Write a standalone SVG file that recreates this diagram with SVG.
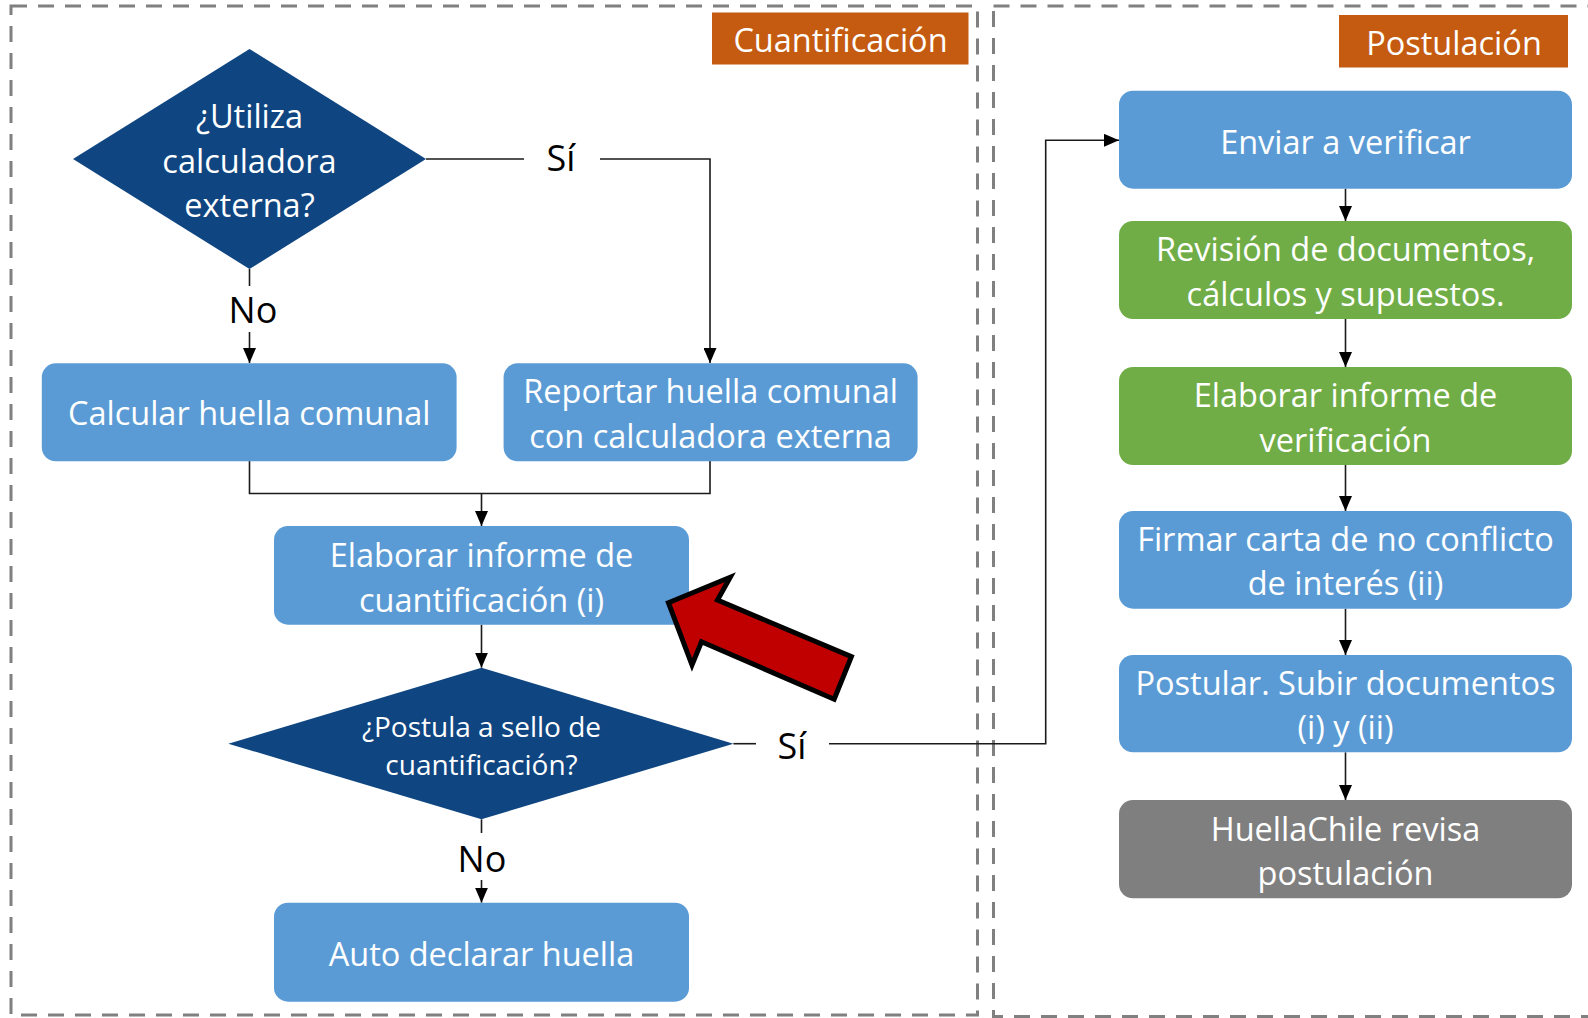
<svg xmlns="http://www.w3.org/2000/svg" width="1588" height="1018" viewBox="0 0 1588 1018">
<style>
.frame{fill:none;stroke:#808080;stroke-width:3;stroke-dasharray:16 11}
.tag{fill:#C55A11}
.box{fill:#5B9BD5}
.green{fill:#70AD47}
.gray{fill:#7F7F7F}
.dia{fill:#0F4581}
.t{font-family:"Open Sans","Noto Sans",sans-serif;font-size:32.5px;fill:#fff;text-anchor:middle;dominant-baseline:central}
.ts{font-size:28px}
.lbl{font-family:"Open Sans","Noto Sans",sans-serif;font-size:36px;fill:#000;text-anchor:middle;dominant-baseline:central}
.c{fill:none;stroke:#1a1a1a;stroke-width:1.6}
</style>
<defs>
<marker id="ah" markerUnits="userSpaceOnUse" markerWidth="15" markerHeight="13" refX="15" refY="6.5" orient="auto">
<path d="M0,0 L15,6.5 L0,13 z" fill="#000"/>
</marker>
</defs>
<rect id="frame-cuantificacion" class="frame" x="11" y="6" width="966.5" height="1009"/>
<rect id="frame-postulacion" class="frame" x="993.5" y="6" width="620" height="1010.5"/>
<g id="tag-cuantificacion"><rect class="tag" x="712" y="12.5" width="256.5" height="52"/><text class="t" x="840.5" y="39.5">Cuantificación</text></g>
<g id="tag-postulacion"><rect class="tag" x="1339" y="15" width="229" height="52.5"/><text class="t" x="1454" y="42">Postulación</text></g>

<g id="connectors">
<path class="c" d="M426,159 H524"/>
<path class="c" d="M600,159 H710 V363" marker-end="url(#ah)"/>
<path class="c" d="M249.5,269 V286"/>
<path class="c" d="M249.5,332 V363" marker-end="url(#ah)"/>
<path class="c" d="M249.5,461 V493.5 H710 V461"/>
<path class="c" d="M481.5,493.5 V526" marker-end="url(#ah)"/>
<path class="c" d="M481.5,624.7 V667.7" marker-end="url(#ah)"/>
<path class="c" d="M733.4,743.7 H756"/>
<path class="c" d="M829,743.7 H1045.7 V140.3 H1119" marker-end="url(#ah)"/>
<path class="c" d="M481.5,819.3 V833"/>
<path class="c" d="M481.5,880 V902.7" marker-end="url(#ah)"/>
<path class="c" d="M1345.5,188.7 V221" marker-end="url(#ah)"/>
<path class="c" d="M1345.5,319 V367" marker-end="url(#ah)"/>
<path class="c" d="M1345.5,465 V511" marker-end="url(#ah)"/>
<path class="c" d="M1345.5,608.7 V655" marker-end="url(#ah)"/>
<path class="c" d="M1345.5,752.3 V800" marker-end="url(#ah)"/>
<text class="lbl" x="561" y="157">Sí</text>
<text class="lbl" x="253" y="309">No</text>
<text class="lbl" x="792" y="745">Sí</text>
<text class="lbl" x="482" y="858">No</text>
</g>

<g id="d-utiliza"><polygon class="dia" points="249.5,49 426,159 249.5,269 73,159"/>
<text class="t" x="249.5" y="115">¿Utiliza</text><text class="t" x="249.5" y="160">calculadora</text><text class="t" x="249.5" y="204.5">externa?</text></g>

<g id="n-calcular"><rect class="box" x="41.8" y="363.3" width="414.8" height="98" rx="14"/>
<text class="t" x="249.2" y="412">Calcular huella comunal</text></g>

<g id="n-reportar"><rect class="box" x="503.6" y="363.3" width="414" height="98" rx="14"/>
<text class="t" x="710.6" y="390.5">Reportar huella comunal</text><text class="t" x="710.6" y="435.5">con calculadora externa</text></g>

<g id="n-elaborar-cuant"><rect class="box" x="274" y="526" width="415" height="98.7" rx="14"/>
<text class="t" x="481.5" y="554">Elaborar informe de</text><text class="t" x="481.5" y="599">cuantificación (i)</text></g>

<g id="d-postula"><polygon class="dia" points="481.5,667.7 733.4,743.7 481.5,819.3 228.3,743.7"/>
<text class="t ts" x="481.5" y="726">¿Postula a sello de</text><text class="t ts" x="481.5" y="763.5">cuantificación?</text></g>

<g id="n-auto"><rect class="box" x="274" y="902.7" width="415" height="99" rx="14"/>
<text class="t" x="481.5" y="953">Auto declarar huella</text></g>

<g id="n-enviar"><rect class="box" x="1119" y="90.7" width="453" height="98" rx="14"/>
<text class="t" x="1345.5" y="141">Enviar a verificar</text></g>

<g id="n-revision"><rect class="green" x="1119" y="221" width="453" height="98" rx="14"/>
<text class="t" x="1345.5" y="248.5">Revisión de documentos,</text><text class="t" x="1345.5" y="293">cálculos y supuestos.</text></g>

<g id="n-elaborar-ver"><rect class="green" x="1119" y="367" width="453" height="98" rx="14"/>
<text class="t" x="1345.5" y="394.5">Elaborar informe de</text><text class="t" x="1345.5" y="439">verificación</text></g>

<g id="n-firmar"><rect class="box" x="1119" y="511" width="453" height="97.7" rx="14"/>
<text class="t" x="1345.5" y="538">Firmar carta de no conflicto</text><text class="t" x="1345.5" y="582.5">de interés (ii)</text></g>

<g id="n-postular"><rect class="box" x="1119" y="655" width="453" height="97.3" rx="14"/>
<text class="t" x="1345.5" y="682">Postular. Subir documentos</text><text class="t" x="1345.5" y="726.5">(i) y (ii)</text></g>

<g id="n-huellachile"><rect class="gray" x="1119" y="800" width="453" height="98.3" rx="14"/>
<text class="t" x="1345.5" y="828">HuellaChile revisa</text><text class="t" x="1345.5" y="872.5">postulación</text></g>

<g id="pointer-arrow"><polygon points="668.4,602.7 730.2,577.3 717.5,600 851.4,656.7 834.2,699.3 701.5,641.7 692,665" fill="#C00000" stroke="#000" stroke-width="5" stroke-linejoin="miter"/></g>
</svg>
